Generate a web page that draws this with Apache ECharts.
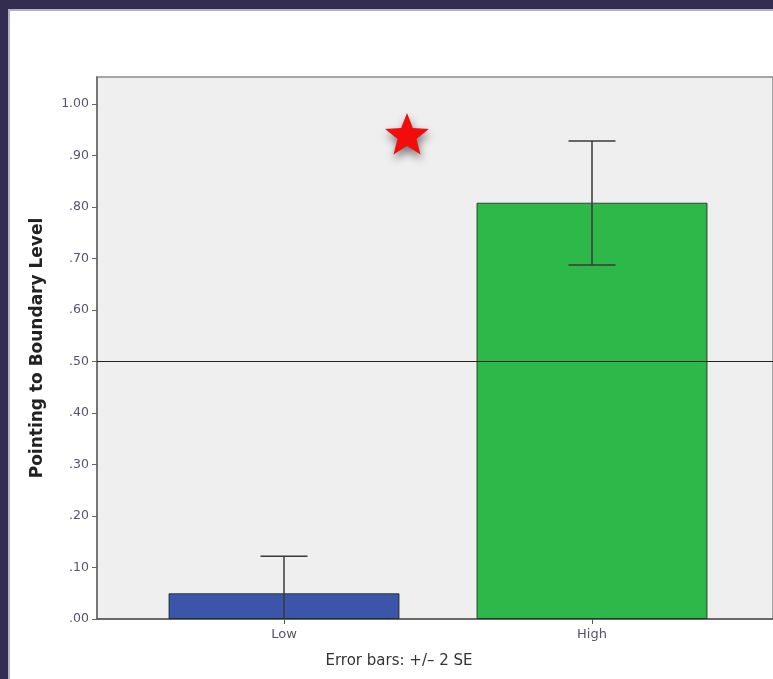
<!DOCTYPE html>
<html>
<head>
<meta charset="utf-8">
<script src="https://cdn.jsdelivr.net/npm/echarts@6/dist/echarts.min.js"></script>
<style>
  html, body { margin: 0; padding: 0; background: #342d52; width: 773px; height: 679px; overflow: hidden; }
  #panel { position: absolute; left: 8px; top: 9px; width: 800px; height: 700px; background: #ffffff;
           border-left: 2px solid #b3b1c3; border-top: 2px solid #b3b1c3; }
  #chart { position: absolute; left: 0; top: 0; width: 773px; height: 679px; }
</style>
</head>
<body>
<div id="panel"></div>
<div id="chart"></div>
<script>
// Boundary-level pointing by group, mean with +/- 2 SE error bars
const categories = ['Low', 'High'];
const means = [0.05, 0.808];
const errLower = [-0.022, 0.687];
const errUpper = [0.122, 0.928];
const barColors = ['#3b55a8', '#2eb84a'];
const yTicks = [0, 0.1, 0.2, 0.3, 0.4, 0.5, 0.6, 0.7, 0.8, 0.9, 1.0];
const yMax = 1.052;
const chanceLevel = 0.5;

const fmt = v => v.toFixed(2).replace(/^0/, '');

// Five-pointed star outline (used for the significance marker)
function starPoints(cx, cy, R, r) {
  const pts = [];
  for (let i = 0; i < 10; i++) {
    const rad = i % 2 === 0 ? R : r;
    const a = -Math.PI / 2 + i * Math.PI / 5;
    pts.push([cx + rad * Math.cos(a), cy + rad * Math.sin(a)]);
  }
  return pts;
}

const chart = echarts.init(document.getElementById('chart'), null, { renderer: 'canvas' });

chart.setOption({
  backgroundColor: 'transparent',
  animation: false,
  grid: [
    { left: 97, right: -12, top: 77, bottom: 60, show: true, backgroundColor: '#efefef',
      borderColor: '#8c8c8c', borderWidth: 1.5, z: 0 },
    { left: 130, right: 27, top: 77, bottom: 60 }
  ],
  xAxis: [
    { gridIndex: 0, type: 'value', min: 0, max: 1,
      axisLine: { show: true, onZero: false, lineStyle: { color: '#555', width: 1.5 } },
      axisTick: { show: false }, axisLabel: { show: false }, splitLine: { show: false } },
    { gridIndex: 1, type: 'category', data: categories, boundaryGap: true,
      axisLine: { show: false },
      axisTick: { show: true, alignWithLabel: true, length: 5, lineStyle: { color: '#555', width: 1 } },
      axisLabel: { fontFamily: 'DejaVu Sans', fontSize: 13, color: '#555466', margin: 9 } }
  ],
  yAxis: [
    { gridIndex: 0, type: 'value', min: 0, max: yMax,
      name: 'Pointing to Boundary Level', nameLocation: 'middle', nameGap: 51,
      nameTextStyle: { fontFamily: 'DejaVu Sans', fontWeight: 'bold', fontSize: 17, color: '#222' },
      axisLine: { show: true, lineStyle: { color: '#666', width: 1.5 } },
      axisTick: { show: true, length: 5, customValues: yTicks, lineStyle: { color: '#666' } },
      axisLabel: { customValues: yTicks, formatter: fmt, fontFamily: 'DejaVu Sans', fontSize: 12.5,
                   color: '#55546e', margin: 8 },
      splitLine: { show: false } },
    { gridIndex: 1, type: 'value', min: 0, max: yMax, show: false }
  ],
  graphic: [
    { type: 'polygon', z: 100,
      shape: { points: starPoints(407, 136, 23, 10) },
      style: { fill: '#f20d0d', shadowBlur: 9, shadowColor: 'rgba(0,0,0,0.5)',
               shadowOffsetX: 1, shadowOffsetY: 5 } },
    { type: 'text', x: 399, y: 661, z: 100,
      style: { text: 'Error bars: +/\u2013 2 SE', fontFamily: 'DejaVu Sans', fontSize: 15,
               fill: '#333', align: 'center', verticalAlign: 'middle' } }
  ],
  series: [
    {
      name: 'Mean', type: 'bar', xAxisIndex: 1, yAxisIndex: 1, z: 2,
      barWidth: '75%',
      data: means.map((v, i) => ({ value: v, itemStyle: { color: barColors[i] } })),
      itemStyle: { borderColor: 'rgba(20,30,20,0.75)', borderWidth: 1 }
    },
    {
      name: '+/- 2 SE', type: 'custom', xAxisIndex: 1, yAxisIndex: 1, z: 4, clip: true,
      data: categories.map((c, i) => [i, errLower[i], errUpper[i]]),
      renderItem: function (params, api) {
        const x = api.value(0);
        const lo = api.coord([x, Math.max(api.value(1), 0)]);
        const hi = api.coord([x, api.value(2)]);
        const half = 23.5;
        const style = { stroke: '#3a3a3a', lineWidth: 1.5 };
        const children = [
          { type: 'line', shape: { x1: hi[0], y1: hi[1], x2: lo[0], y2: lo[1] }, style },
          { type: 'line', shape: { x1: hi[0] - half, y1: hi[1], x2: hi[0] + half, y2: hi[1] }, style }
        ];
        if (api.value(1) > 0) {
          children.push({ type: 'line', shape: { x1: lo[0] - half, y1: lo[1], x2: lo[0] + half, y2: lo[1] }, style });
        }
        return { type: 'group', children };
      }
    },
    {
      name: 'Chance', type: 'line', xAxisIndex: 0, yAxisIndex: 0, z: 5, data: [],
      markLine: {
        silent: true, symbol: 'none', label: { show: false },
        lineStyle: { color: '#222', width: 1.2, type: 'solid' },
        data: [{ yAxis: chanceLevel }]
      }
    }
  ]
});
</script>
</body>
</html>
